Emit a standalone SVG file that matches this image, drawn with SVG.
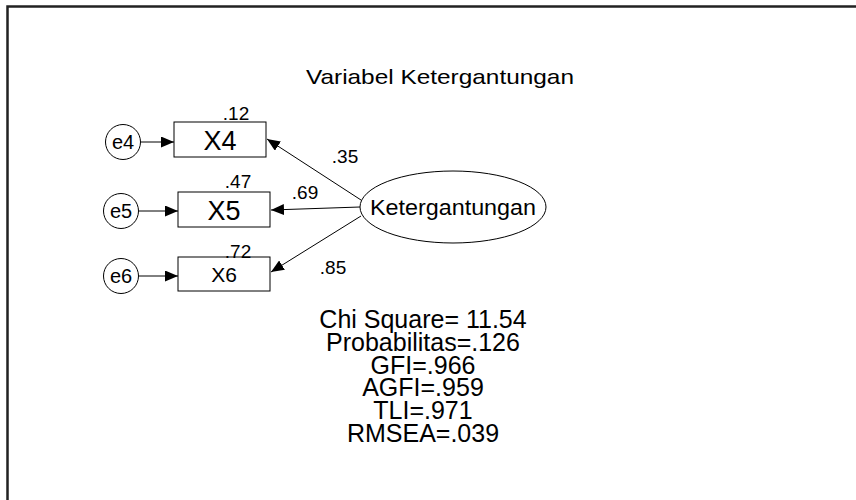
<svg xmlns="http://www.w3.org/2000/svg" width="856" height="500" viewBox="0 0 856 500">
<defs>
<marker id="ah" markerUnits="userSpaceOnUse" markerWidth="13" markerHeight="11" refX="13" refY="5.5" orient="auto">
<path d="M0,0 L13,5.5 L0,11 Z" fill="#000"/>
</marker>
<style>
text{font-family:"Liberation Sans",Arial,sans-serif;fill:#000}
.box{fill:#fff;stroke:#000;stroke-width:1}
.err{fill:#fff;stroke:#000;stroke-width:1}
.lbl{font-size:19px}
.c{text-anchor:middle}
.fit{font-size:25px;text-anchor:middle}
#connectors line{stroke:#000;stroke-width:1;marker-end:url(#ah)}
</style>
</defs>
<rect x="0" y="0" width="856" height="500" fill="#fff"/>
<rect x="7.5" y="6.5" width="860" height="510" fill="none" stroke="#222" stroke-width="2.5"/>
<text x="440" y="84" class="c" font-size="21" textLength="268" lengthAdjust="spacingAndGlyphs">Variabel Ketergantungan</text>
<g id="connectors">
<line x1="141" y1="142" x2="174" y2="142"/>
<line x1="139" y1="211" x2="178" y2="211"/>
<line x1="139" y1="276" x2="178" y2="276"/>
<line x1="361" y1="200" x2="267" y2="139"/>
<line x1="360" y1="207" x2="271" y2="210"/>
<line x1="361" y1="216" x2="271" y2="272"/>
</g>
<g id="e4"><circle class="err" cx="123" cy="142" r="17.5"/><text x="123" y="149" class="c" font-size="20">e4</text></g>
<g id="e5"><circle class="err" cx="121" cy="211" r="17.5"/><text x="121" y="218" class="c" font-size="20">e5</text></g>
<g id="e6"><circle class="err" cx="121" cy="276" r="17.5"/><text x="121" y="283" class="c" font-size="20">e6</text></g>
<g id="X4"><rect class="box" x="174" y="122" width="92" height="35"/><text x="220" y="150" class="c" font-size="27">X4</text><text x="236" y="120" class="c lbl">.12</text></g>
<g id="X5"><rect class="box" x="178" y="192" width="92" height="35"/><text x="224" y="220" class="c" font-size="27">X5</text><text x="238" y="188" class="c lbl">.47</text></g>
<g id="X6"><rect class="box" x="178" y="257" width="92" height="34"/><text x="224" y="282" class="c" font-size="21">X6</text><text x="238" y="258" class="c lbl">.72</text></g>
<g id="Ketergantungan"><ellipse class="box" cx="453" cy="207" rx="93" ry="36"/><text x="453" y="215" class="c" font-size="22" textLength="166" lengthAdjust="spacingAndGlyphs">Ketergantungan</text></g>
<text x="345" y="163" class="c lbl">.35</text>
<text x="305" y="199" class="c lbl">.69</text>
<text x="333" y="274" class="c lbl">.85</text>
<text x="423" y="328" class="fit">Chi Square= 11.54</text>
<text x="423" y="351" class="fit">Probabilitas=.126</text>
<text x="423" y="374" class="fit">GFI=.966</text>
<text x="423" y="396" class="fit">AGFI=.959</text>
<text x="423" y="419" class="fit">TLI=.971</text>
<text x="423" y="442" class="fit">RMSEA=.039</text>
</svg>
